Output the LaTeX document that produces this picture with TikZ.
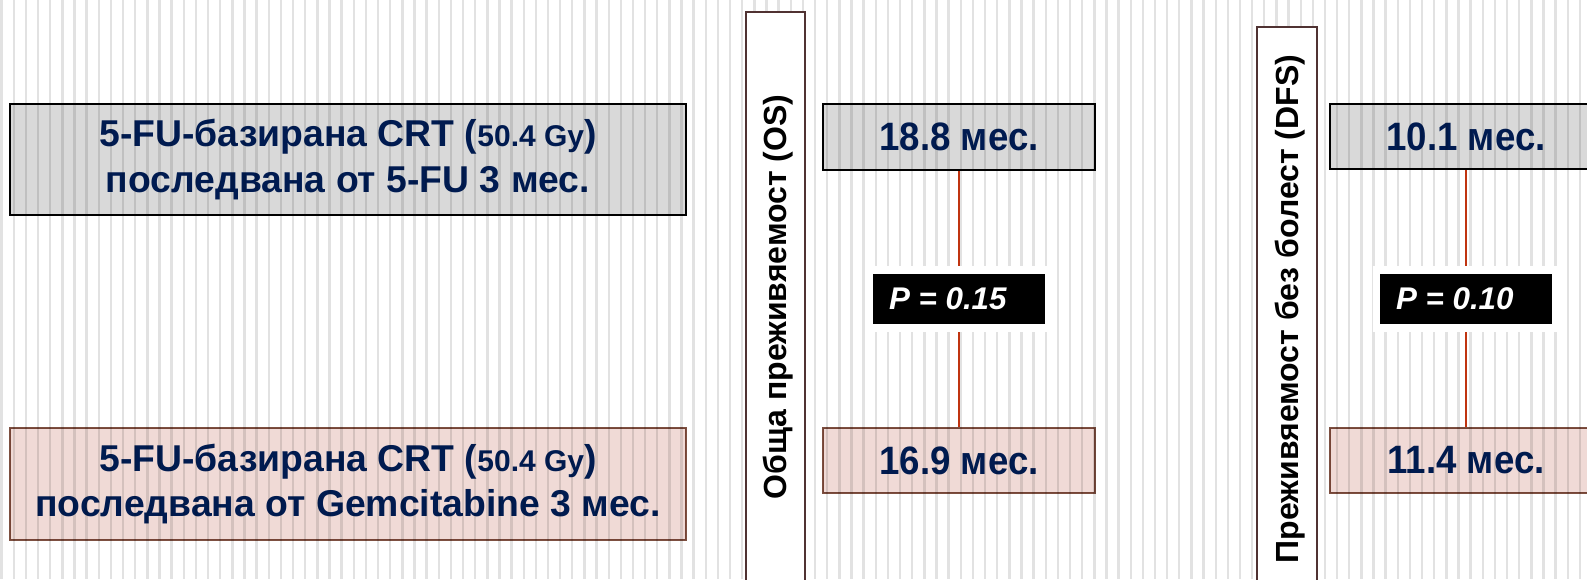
\documentclass[tikz,border=0pt]{standalone}
\usepackage{fontspec}
\setmainfont{Liberation Sans}
\definecolor{navy}{RGB}{0,32,96}
\definecolor{bgstripe}{RGB}{226,226,226}
\definecolor{grayfill}{RGB}{217,217,217}
\definecolor{pinkfill}{RGB}{240,218,214}
\definecolor{pinkborder}{RGB}{125,80,65}
\definecolor{vborder}{RGB}{80,50,50}
\definecolor{pline}{RGB}{192,52,16}
\newcommand{\tallval}[1]{\scalebox{1}[1.08]{#1}}
\begin{document}
\begin{tikzpicture}[x=0.75pt,y=-0.75pt,
  stripe/.style={draw=bgstripe,line width=1.8pt},
  armbox/.style={draw=black,line width=1.6pt,fill=grayfill,inner sep=0pt,align=center,
    text=navy,font=\fontsize{28}{34}\selectfont\bfseries},
  armboxb/.style={armbox,draw=pinkborder,fill=pinkfill},
  valbox/.style={draw=black,line width=1.6pt,fill=grayfill,inner sep=0pt,
    minimum width=204pt,text=navy,font=\fontsize{27.5}{34}\selectfont\bfseries},
  valboxb/.style={valbox,draw=pinkborder,fill=pinkfill},
  vbox/.style={draw=vborder,line width=1.5pt,fill=white,inner sep=0pt},
  vtext/.style={rotate=90,anchor=base,font=\fontsize{24}{28}\selectfont\bfseries,text=black,inner sep=0pt},
  halo/.style={fill=white,inner sep=0pt,minimum width=139.5pt,minimum height=49.5pt},
  pbox/.style={fill=black,text=white,inner sep=0pt,minimum width=129pt,minimum height=37.5pt,
    font=\fontsize{23.5}{28}\selectfont\bfseries\itshape},
  conn/.style={draw=pline,line width=1.6pt}]
\useasboundingbox (0,0) rectangle (1587,579);
\fill[white] (0,0) rectangle (1587,579);
\foreach \i in {0,...,130} \draw[stripe] ({1.7+12.14*\i},0) -- ({1.7+12.14*\i},579);
\begin{scope}[blend mode=multiply]
\node[armbox,minimum width=507pt,minimum height=83.25pt] (arm1) at (348,159.5)
  {5-FU-базирана CRT ({\fontsize{22.5}{34}\selectfont 50.4 Gy})\\последвана от 5-FU 3 мес.};
\node[armboxb,minimum width=507pt,minimum height=84pt] (arm2) at (348,484)
  {5-FU-базирана CRT ({\fontsize{22.5}{34}\selectfont 50.4 Gy})\\последвана от Gemcitabine 3 мес.};
\node[valbox,minimum height=49.5pt] (os1) at (959,137) {\tallval{18.8 мес.}};
\node[valboxb,minimum height=48.75pt] (os2) at (959,460.5) {\tallval{16.9 мес.}};
\node[valbox,minimum height=48.75pt] (dfs1) at (1466,136.5) {\tallval{10.1 мес.}};
\node[valboxb,minimum height=48.75pt] (dfs2) at (1466,460.5) {\tallval{11.4 мес.}};
\end{scope}
\node[vbox,minimum width=44.25pt,minimum height=433.5pt] (osbox) at (775.5,301) {};
\node[vtext] (oslabel) at (786,297) {Обща преживяемост (OS)};
\node[vbox,minimum width=45pt,minimum height=422.25pt] (dfsbox) at (1287,308.5) {};
\node[vtext] (dfslabel) at (1298,309) {Преживяемост без болест (DFS)};
\node[halo] (h1) at (959,299) {};
\node[pbox] (p1) at (959,299) {\makebox[105pt][l]{P = 0.15}};
\node[halo] (h2) at (1466,299) {};
\node[pbox] (p2) at (1466,299) {\makebox[105pt][l]{P = 0.10}};
\draw[conn] (os1.south) -- (h1.north);
\draw[conn] (h1.south) -- (os2.north);
\draw[conn] (dfs1.south) -- (h2.north);
\draw[conn] (h2.south) -- (dfs2.north);
\end{tikzpicture}
\end{document}
